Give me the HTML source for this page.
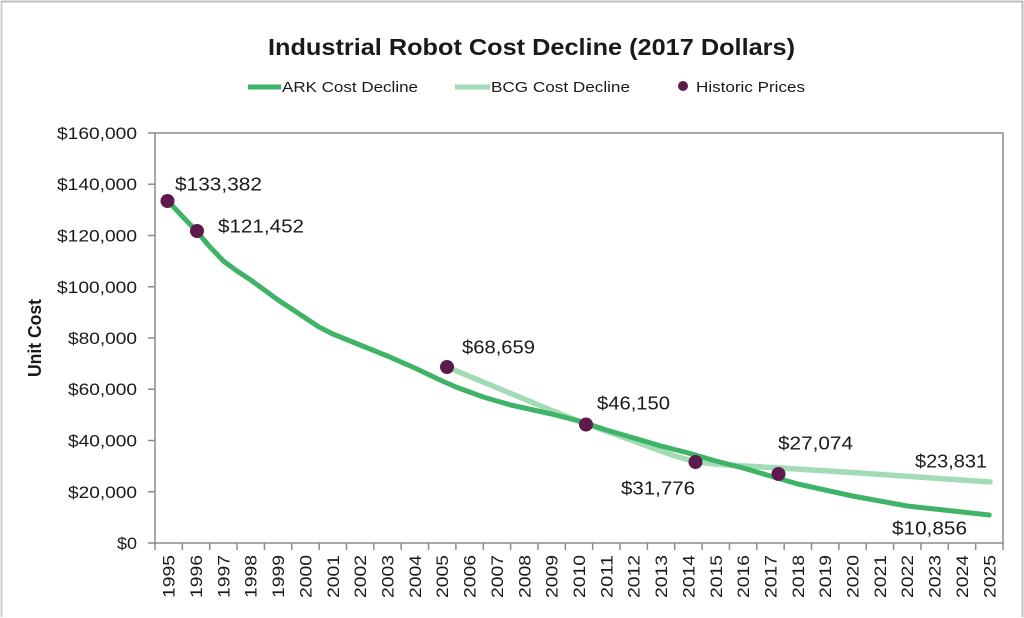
<!DOCTYPE html>
<html>
<head>
<meta charset="utf-8">
<style>
  html, body { margin: 0; padding: 0; background: #ffffff; }
  body { width: 1024px; height: 618px; overflow: hidden; }
  svg { display: block; }
  text { font-family: "Liberation Sans", sans-serif; fill: #1a1a1a; }
</style>
</head>
<body>
<svg width="1024" height="618" viewBox="0 0 1024 618" xmlns="http://www.w3.org/2000/svg">
  <!-- outer frame -->
  <rect x="0" y="0" width="1024" height="618" fill="#ffffff"/>
  <line x1="1.5" y1="1" x2="1.5" y2="617" stroke="#cfcfcf" stroke-width="2"/>
  <line x1="1" y1="1.5" x2="1023" y2="1.5" stroke="#bdbdbd" stroke-width="2"/>
  <line x1="1022.5" y1="1" x2="1022.5" y2="617" stroke="#bdbdbd" stroke-width="2"/>

  <!-- title -->
  <text x="531.5" y="55" text-anchor="middle" font-size="23" font-weight="bold" textLength="527" lengthAdjust="spacingAndGlyphs">Industrial Robot Cost Decline (2017 Dollars)</text>

  <!-- legend -->
  <line x1="248" y1="87" x2="281" y2="87" stroke="#3fb468" stroke-width="5"/>
  <text x="282" y="92" font-size="15" textLength="136" lengthAdjust="spacingAndGlyphs">ARK Cost Decline</text>
  <line x1="455" y1="87" x2="490" y2="87" stroke="#a2dbb5" stroke-width="5"/>
  <text x="491" y="92" font-size="15" textLength="139" lengthAdjust="spacingAndGlyphs">BCG Cost Decline</text>
  <circle cx="683" cy="86" r="5" fill="#5c1b4c"/>
  <text x="696" y="92" font-size="15" textLength="109" lengthAdjust="spacingAndGlyphs">Historic Prices</text>

  <!-- y axis title -->
  <text transform="translate(41,338) rotate(-90)" x="0" y="0" text-anchor="middle" font-size="18" font-weight="bold" textLength="78" lengthAdjust="spacingAndGlyphs">Unit Cost</text>

  <!-- plot frame -->
  <rect x="155" y="133" width="848" height="410" fill="none" stroke="#8c8c8c" stroke-width="1.5"/>

  <!-- y ticks -->
  <g stroke="#8c8c8c" stroke-width="1.5">
    <line x1="148" y1="133" x2="155" y2="133"/>
    <line x1="148" y1="184.25" x2="155" y2="184.25"/>
    <line x1="148" y1="235.5" x2="155" y2="235.5"/>
    <line x1="148" y1="286.75" x2="155" y2="286.75"/>
    <line x1="148" y1="338" x2="155" y2="338"/>
    <line x1="148" y1="389.25" x2="155" y2="389.25"/>
    <line x1="148" y1="440.5" x2="155" y2="440.5"/>
    <line x1="148" y1="491.75" x2="155" y2="491.75"/>
    <line x1="148" y1="543" x2="155" y2="543"/>
  </g>
  <g font-size="17" text-anchor="end">
    <text x="137" y="139" textLength="80" lengthAdjust="spacingAndGlyphs">$160,000</text>
    <text x="137" y="190" textLength="80" lengthAdjust="spacingAndGlyphs">$140,000</text>
    <text x="137" y="241.5" textLength="80" lengthAdjust="spacingAndGlyphs">$120,000</text>
    <text x="137" y="293" textLength="80" lengthAdjust="spacingAndGlyphs">$100,000</text>
    <text x="137" y="344" textLength="69" lengthAdjust="spacingAndGlyphs">$80,000</text>
    <text x="137" y="395" textLength="69" lengthAdjust="spacingAndGlyphs">$60,000</text>
    <text x="137" y="446.5" textLength="69" lengthAdjust="spacingAndGlyphs">$40,000</text>
    <text x="137" y="498" textLength="69" lengthAdjust="spacingAndGlyphs">$20,000</text>
    <text x="137" y="549" textLength="20" lengthAdjust="spacingAndGlyphs">$0</text>
  </g>

  <!-- x ticks -->
  <g stroke="#8c8c8c" stroke-width="1.5">
    <line x1="155" y1="543" x2="155" y2="550"/>
    <line x1="182.35" y1="543" x2="182.35" y2="550"/>
    <line x1="209.71" y1="543" x2="209.71" y2="550"/>
    <line x1="237.06" y1="543" x2="237.06" y2="550"/>
    <line x1="264.42" y1="543" x2="264.42" y2="550"/>
    <line x1="291.77" y1="543" x2="291.77" y2="550"/>
    <line x1="319.13" y1="543" x2="319.13" y2="550"/>
    <line x1="346.48" y1="543" x2="346.48" y2="550"/>
    <line x1="373.84" y1="543" x2="373.84" y2="550"/>
    <line x1="401.19" y1="543" x2="401.19" y2="550"/>
    <line x1="428.55" y1="543" x2="428.55" y2="550"/>
    <line x1="455.90" y1="543" x2="455.90" y2="550"/>
    <line x1="483.26" y1="543" x2="483.26" y2="550"/>
    <line x1="510.61" y1="543" x2="510.61" y2="550"/>
    <line x1="537.97" y1="543" x2="537.97" y2="550"/>
    <line x1="565.32" y1="543" x2="565.32" y2="550"/>
    <line x1="592.68" y1="543" x2="592.68" y2="550"/>
    <line x1="620.03" y1="543" x2="620.03" y2="550"/>
    <line x1="647.39" y1="543" x2="647.39" y2="550"/>
    <line x1="674.74" y1="543" x2="674.74" y2="550"/>
    <line x1="702.10" y1="543" x2="702.10" y2="550"/>
    <line x1="729.45" y1="543" x2="729.45" y2="550"/>
    <line x1="756.81" y1="543" x2="756.81" y2="550"/>
    <line x1="784.16" y1="543" x2="784.16" y2="550"/>
    <line x1="811.52" y1="543" x2="811.52" y2="550"/>
    <line x1="838.87" y1="543" x2="838.87" y2="550"/>
    <line x1="866.23" y1="543" x2="866.23" y2="550"/>
    <line x1="893.58" y1="543" x2="893.58" y2="550"/>
    <line x1="920.94" y1="543" x2="920.94" y2="550"/>
    <line x1="948.29" y1="543" x2="948.29" y2="550"/>
    <line x1="975.65" y1="543" x2="975.65" y2="550"/>
    <line x1="1003" y1="543" x2="1003" y2="550"/>
  </g>

  <!-- year labels -->
  <g font-size="17" text-anchor="end">
    <text transform="translate(174.7,555) rotate(-90)" textLength="43" lengthAdjust="spacingAndGlyphs">1995</text>
    <text transform="translate(202.0,555) rotate(-90)" textLength="43" lengthAdjust="spacingAndGlyphs">1996</text>
    <text transform="translate(229.4,555) rotate(-90)" textLength="43" lengthAdjust="spacingAndGlyphs">1997</text>
    <text transform="translate(256.7,555) rotate(-90)" textLength="43" lengthAdjust="spacingAndGlyphs">1998</text>
    <text transform="translate(284.1,555) rotate(-90)" textLength="43" lengthAdjust="spacingAndGlyphs">1999</text>
    <text transform="translate(311.4,555) rotate(-90)" textLength="43" lengthAdjust="spacingAndGlyphs">2000</text>
    <text transform="translate(338.8,555) rotate(-90)" textLength="43" lengthAdjust="spacingAndGlyphs">2001</text>
    <text transform="translate(366.2,555) rotate(-90)" textLength="43" lengthAdjust="spacingAndGlyphs">2002</text>
    <text transform="translate(393.5,555) rotate(-90)" textLength="43" lengthAdjust="spacingAndGlyphs">2003</text>
    <text transform="translate(420.9,555) rotate(-90)" textLength="43" lengthAdjust="spacingAndGlyphs">2004</text>
    <text transform="translate(448.2,555) rotate(-90)" textLength="43" lengthAdjust="spacingAndGlyphs">2005</text>
    <text transform="translate(475.6,555) rotate(-90)" textLength="43" lengthAdjust="spacingAndGlyphs">2006</text>
    <text transform="translate(502.9,555) rotate(-90)" textLength="43" lengthAdjust="spacingAndGlyphs">2007</text>
    <text transform="translate(530.3,555) rotate(-90)" textLength="43" lengthAdjust="spacingAndGlyphs">2008</text>
    <text transform="translate(557.6,555) rotate(-90)" textLength="43" lengthAdjust="spacingAndGlyphs">2009</text>
    <text transform="translate(585.0,555) rotate(-90)" textLength="43" lengthAdjust="spacingAndGlyphs">2010</text>
    <text transform="translate(612.4,555) rotate(-90)" textLength="43" lengthAdjust="spacingAndGlyphs">2011</text>
    <text transform="translate(639.7,555) rotate(-90)" textLength="43" lengthAdjust="spacingAndGlyphs">2012</text>
    <text transform="translate(667.1,555) rotate(-90)" textLength="43" lengthAdjust="spacingAndGlyphs">2013</text>
    <text transform="translate(694.4,555) rotate(-90)" textLength="43" lengthAdjust="spacingAndGlyphs">2014</text>
    <text transform="translate(721.8,555) rotate(-90)" textLength="43" lengthAdjust="spacingAndGlyphs">2015</text>
    <text transform="translate(749.1,555) rotate(-90)" textLength="43" lengthAdjust="spacingAndGlyphs">2016</text>
    <text transform="translate(776.5,555) rotate(-90)" textLength="43" lengthAdjust="spacingAndGlyphs">2017</text>
    <text transform="translate(803.8,555) rotate(-90)" textLength="43" lengthAdjust="spacingAndGlyphs">2018</text>
    <text transform="translate(831.2,555) rotate(-90)" textLength="43" lengthAdjust="spacingAndGlyphs">2019</text>
    <text transform="translate(858.5,555) rotate(-90)" textLength="43" lengthAdjust="spacingAndGlyphs">2020</text>
    <text transform="translate(885.9,555) rotate(-90)" textLength="43" lengthAdjust="spacingAndGlyphs">2021</text>
    <text transform="translate(913.2,555) rotate(-90)" textLength="43" lengthAdjust="spacingAndGlyphs">2022</text>
    <text transform="translate(940.6,555) rotate(-90)" textLength="43" lengthAdjust="spacingAndGlyphs">2023</text>
    <text transform="translate(967.9,555) rotate(-90)" textLength="43" lengthAdjust="spacingAndGlyphs">2024</text>
    <text transform="translate(995.3,555) rotate(-90)" textLength="43" lengthAdjust="spacingAndGlyphs">2025</text>
  </g>

  <!-- BCG line -->
  <polyline fill="none" stroke="#a2dbb5" stroke-width="5.5" stroke-linejoin="round" stroke-linecap="round"
    points="447,367 500,389 553,411 586,424 620,436 650,447 675,456 696,462 720,464.5 780,468 860,473 990,482"/>

  <!-- ARK line -->
  <polyline fill="none" stroke="#3fb468" stroke-width="5" stroke-linejoin="round" stroke-linecap="round"
    points="168,201 182,216 196.4,231 210,247 223.4,261 237,271 250.7,280 264.4,290 278.1,300 291.8,309 305.4,318 319,327 332.8,334 346.5,339.5 360.1,345 373.8,350.5 387.5,356 401,362 414.8,368 428.5,374.5 442.2,381 455.9,387 469.6,392 483.3,397 496.9,401 510.6,405 524.3,408 538,411 551.6,414 565.3,417.5 579,421 592.7,425.5 606.3,430 620,434 633.7,438 647.4,442 661,446 674.7,449.5 688.4,453 702,457 715.7,461 729.4,464.5 743.1,468 756.8,472 770.4,476 784.1,480 797.8,484 811.5,487 825.1,490 838.8,493 852.5,496 866.2,498.5 879.8,501 893.5,503.5 907.2,506 920.9,507.5 934.5,509 948.2,510.5 961.9,512 975.6,513.5 989.2,515"/>

  <!-- historic dots -->
  <g fill="#5c1b4c">
    <circle cx="167.5" cy="201" r="7"/>
    <circle cx="197" cy="231" r="7"/>
    <circle cx="447" cy="367" r="7"/>
    <circle cx="586" cy="424.5" r="7"/>
    <circle cx="695.5" cy="462" r="7"/>
    <circle cx="778.5" cy="474" r="7"/>
  </g>

  <!-- data labels -->
  <g font-size="18">
    <text x="175" y="190.5" textLength="87" lengthAdjust="spacingAndGlyphs">$133,382</text>
    <text x="218" y="232.5" textLength="86" lengthAdjust="spacingAndGlyphs">$121,452</text>
    <text x="462" y="353.5" textLength="73" lengthAdjust="spacingAndGlyphs">$68,659</text>
    <text x="597" y="409.5" textLength="73" lengthAdjust="spacingAndGlyphs">$46,150</text>
    <text x="621" y="494.5" textLength="74" lengthAdjust="spacingAndGlyphs">$31,776</text>
    <text x="778" y="449.5" textLength="75" lengthAdjust="spacingAndGlyphs">$27,074</text>
    <text x="915" y="467.5" textLength="72" lengthAdjust="spacingAndGlyphs">$23,831</text>
    <text x="892" y="534.5" textLength="75" lengthAdjust="spacingAndGlyphs">$10,856</text>
  </g>
</svg>
</body>
</html>
